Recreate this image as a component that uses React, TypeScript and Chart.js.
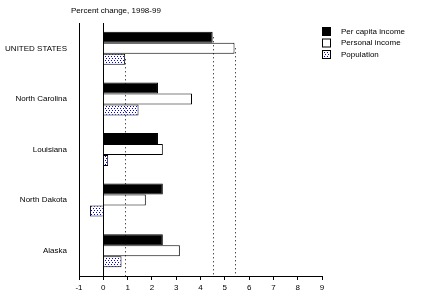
import React, { useEffect, useRef } from "react";
import { Chart, registerables } from "chart.js";

Chart.register(...registerables);

const categories = ["UNITED STATES", "North Carolina", "Louisiana", "North Dakota", "Alaska"];
const perCapitaIncome = [4.5, 2.25, 2.25, 2.45, 2.45];
const personalIncome = [5.4, 3.65, 2.45, 1.75, 3.15];
const population = [0.9, 1.45, 0.2, -0.55, 0.75];
const seriesNames = ["Per capita income", "Personal income", "Population"];
const titleText = "Percent change, 1998-99";
const xMin = -1;
const xMax = 9;

const FONT = "'Liberation Sans', Arial, sans-serif";

function makeDotPattern(): CanvasPattern | string {
  const c = document.createElement("canvas");
  c.width = 6;
  c.height = 4;
  const g = c.getContext("2d");
  if (!g) return "#fff";
  g.fillStyle = "#ffffff";
  g.fillRect(0, 0, 6, 4);
  g.fillStyle = "#0000ff";
  g.fillRect(0, 0, 1, 1);
  g.fillRect(3, 0, 1, 1);
  g.fillRect(1, 2, 1, 1);
  g.fillRect(4, 2, 1, 1);
  const p = g.createPattern(c, "repeat");
  return p || "#fff";
}

export default function App() {
  const ref = useRef<HTMLCanvasElement | null>(null);
  useEffect(() => {
    if (!ref.current) return;
    const dots = makeDotPattern();
    const fills: any[] = ["#000000", "#ffffff", dots];

    const extras = {
      id: "extras",
      afterDatasetsDraw(chart: any) {
        const ctx = chart.ctx;
        const area = chart.chartArea;
        ctx.save();
        ctx.strokeStyle = "#000";
        ctx.lineWidth = 1;
        ctx.setLineDash([1, 3]);
        for (let i = 0; i < 3; i++) {
          const el = chart.getDatasetMeta(i).data[0];
          const x = Math.round(el.x) + 0.5;
          ctx.beginPath();
          ctx.moveTo(x, el.y);
          ctx.lineTo(x, area.bottom);
          ctx.stroke();
        }
        ctx.restore();
      },
      afterDraw(chart: any) {
        const ctx = chart.ctx;
        ctx.save();
        ctx.font = `8px ${FONT}`;
        ctx.fillStyle = "#000";
        ctx.textBaseline = "middle";
        ctx.textAlign = "left";
        ctx.fillText(titleText, 71, 11);
        // legend
        const bx = 322;
        const by = 27;
        for (let i = 0; i < 3; i++) {
          const y = by + i * 11.5;
          ctx.fillStyle = fills[i];
          ctx.fillRect(bx, y, 9, 9);
          ctx.strokeStyle = "#000";
          ctx.lineWidth = 1;
          ctx.strokeRect(bx + 0.5, y + 0.5, 8, 8);
          ctx.fillStyle = "#000";
          ctx.fillText(seriesNames[i], 341, y + 4.5);
        }
        ctx.restore();
      },
    };

    const chart = new Chart(ref.current, {
      type: "bar",
      data: {
        labels: categories,
        datasets: [
          { label: seriesNames[0], data: perCapitaIncome, backgroundColor: fills[0], borderColor: "#000", borderWidth: 1 },
          { label: seriesNames[1], data: personalIncome, backgroundColor: fills[1], borderColor: "#000", borderWidth: 1 },
          { label: seriesNames[2], data: population, backgroundColor: fills[2], borderColor: "#000", borderWidth: 1 },
        ],
      },
      options: {
        indexAxis: "y",
        animation: false,
        responsive: false,
        devicePixelRatio: 1,
        layout: { padding: { top: 23, right: 101, left: 0, bottom: 0 } },
        datasets: { bar: { categoryPercentage: 0.652, barPercentage: 1 } },
        plugins: {
          legend: { display: false },
          title: { display: false },
          tooltip: { enabled: false },
        },
        scales: {
          x: {
            type: "linear",
            min: xMin,
            max: xMax,
            ticks: { stepSize: 1, color: "#000", font: { family: FONT, size: 8 }, padding: 3 },
            grid: {
              color: (c: any) => (c.tick && c.tick.value === 0 ? "#000" : "rgba(0,0,0,0)"),
              tickColor: "#000",
              tickLength: 4,
              drawOnChartArea: true,
            },
            border: { display: true, color: "#000", width: 1 },
            afterFit: (s: any) => {
              s.height = 29;
            },
          },
          y: {
            type: "category",
            offset: true,
            ticks: { color: "#000", font: { family: FONT, size: 8 }, padding: 4 },
            grid: { display: false },
            border: { display: true, color: "#000", width: 1 },
            afterFit: (s: any) => {
              s.width = 79;
            },
          },
        },
      },
      plugins: [extras],
    });
    return () => chart.destroy();
  }, []);
  return (
    <div style={{ position: "absolute", left: 0, top: 0, width: 423, height: 305, background: "#fff" }}>
      <canvas ref={ref} width={423} height={305} style={{ display: "block" }} />
    </div>
  );
}
